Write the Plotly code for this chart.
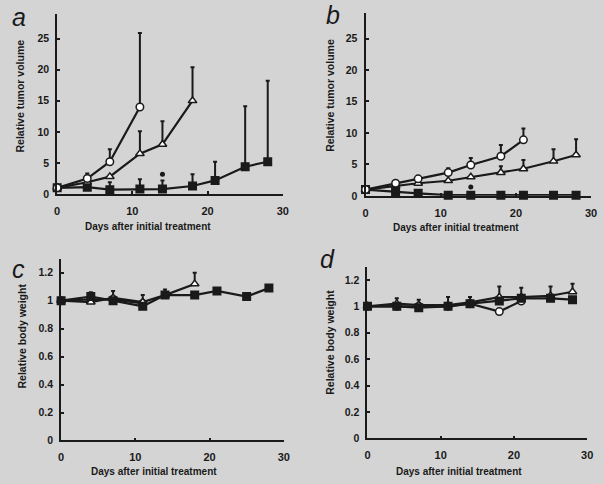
import plotly.graph_objects as go

# ---------------- data ----------------
days = [0, 4, 7, 11, 14, 18, 21, 25, 28]

# Panel a: relative tumor volume
a_circle = [1.0, 2.5, 5.2, 14.0]
a_circle_err = [0, 0.8, 2.0, 11.9]
a_tri = [1.0, 1.9, 2.8, 6.5, 8.0, 15.0]
a_tri_err = [0, 0, 0, 3.6, 3.7, 5.4]
a_sq = [1.0, 1.1, 0.7, 0.8, 0.8, 1.3, 2.2, 4.4, 5.2]
a_sq_err = [0, 0, 1.2, 1.6, 1.4, 1.9, 3.0, 9.7, 13.0]
a_star = (14, 3.2)

# Panel b: relative tumor volume
b_circle = [1.0, 2.0, 2.7, 3.7, 4.9, 6.3, 8.9]
b_circle_err = [0, 0, 0, 0.7, 1.1, 1.8, 1.8]
b_tri = [1.0, 1.6, 2.0, 2.4, 3.0, 3.7, 4.3, 5.5, 6.5]
b_tri_err = [0, 0, 0, 0, 0, 1.0, 1.4, 1.9, 2.5]
b_sq = [1.0, 0.6, 0.4, 0.1, 0.1, 0.1, 0.1, 0.1, 0.1]
b_star = (14, 1.4)

# Panel c: relative body weight
c_sq = [1.0, 1.03, 1.0, 0.96, 1.04, 1.04, 1.07, 1.03, 1.09]
c_sq_err = [0, 0.03, 0, 0, 0.04, 0, 0.02, 0, 0.01]
c_tri = [1.0, 0.99, 1.02, 0.99, 1.04, 1.12]
c_tri_err = [0, 0, 0.05, 0.05, 0, 0.08]
c_circle = [1.0, 1.01, 1.01, 0.98]

# Panel d: relative body weight
d_sq = [1.0, 1.0, 0.99, 1.0, 1.02, 1.04, 1.06, 1.06, 1.05]
d_tri = [1.0, 1.02, 1.01, 1.01, 1.03, 1.07, 1.07, 1.08, 1.11]
d_tri_err = [0, 0.04, 0.04, 0.06, 0.04, 0.08, 0.07, 0.07, 0.06]
d_circle = [1.0, 1.0, 1.0, 1.0, 1.02, 0.96, 1.04]

x_ticks = [0, 10, 20, 30]
tumor_ticks = [0, 5, 10, 15, 20, 25]
weight_ticks = [0, 0.2, 0.4, 0.6, 0.8, 1, 1.2]

# ---------------- layout helpers ----------------
W, H = 604, 484
BG = "#d4d4d4"
INK = "#1a1a1a"
FONT = "Liberation Sans, Arial, sans-serif"


def px(x):
    return x / W


def py(y):
    return 1 - y / H


fig = go.Figure()

STYLES = {
    "circle": dict(symbol="circle", color="white", size=7.5),
    "tri": dict(symbol="triangle-up", color="white", size=7.5),
    "sq": dict(symbol="square", color=INK, size=7.5),
}


def add_series(n, y, err, kind):
    xs = days[:len(y)]
    st = STYLES[kind]
    tr = dict(
        x=xs, y=y, mode="lines+markers",
        line=dict(color=INK, width=2.2),
        marker=dict(symbol=st["symbol"], size=st["size"], color=st["color"],
                    line=dict(color=INK, width=1.5)),
        xaxis=f"x{n}" if n > 1 else "x",
        yaxis=f"y{n}" if n > 1 else "y",
        cliponaxis=False, showlegend=False, hoverinfo="x+y",
    )
    if err is not None:
        tr["error_y"] = dict(type="data", array=err, arrayminus=[0] * len(err),
                             symmetric=False, color=INK, thickness=2, width=2)
    fig.add_trace(go.Scatter(**tr))


def add_star(n, pt):
    fig.add_trace(go.Scatter(
        x=[pt[0]], y=[pt[1]], mode="markers",
        marker=dict(symbol="circle", size=5, color=INK),
        xaxis=f"x{n}" if n > 1 else "x",
        yaxis=f"y{n}" if n > 1 else "y",
        cliponaxis=False, showlegend=False, hoverinfo="skip"))


# panel a
add_series(1, a_sq, a_sq_err, "sq")
add_series(1, a_tri, a_tri_err, "tri")
add_series(1, a_circle, a_circle_err, "circle")
add_star(1, a_star)
# panel b
add_series(2, b_sq, None, "sq")
add_series(2, b_tri, b_tri_err, "tri")
add_series(2, b_circle, b_circle_err, "circle")
add_star(2, b_star)
# panel c
add_series(3, c_circle, None, "circle")
add_series(3, c_tri, c_tri_err, "tri")
add_series(3, c_sq, c_sq_err, "sq")
# panel d
add_series(4, d_circle, None, "circle")
add_series(4, d_tri, d_tri_err, "tri")
add_series(4, d_sq, None, "sq")


def xaxis(x0, x1, anchor):
    return dict(domain=[px(x0), px(x1)], range=[0, 30], anchor=anchor,
                tickvals=x_ticks, ticks="inside", ticklen=3, tickwidth=1.5,
                tickcolor=INK, showline=True, linecolor=INK, linewidth=1.5,
                showgrid=False, zeroline=False, ticklabelstandoff=6,
                tickfont=dict(family=FONT, size=11, color=INK, weight="bold"))


def yaxis(y0px, y1px, rng, ticks, anchor):
    return dict(domain=[py(y0px), py(y1px)], range=rng, anchor=anchor,
                tickvals=ticks, ticks="inside", ticklen=3, tickwidth=1.5,
                tickcolor=INK, showline=True, linecolor=INK, linewidth=2,
                showgrid=False, zeroline=False, ticklabelstandoff=4,
                tickfont=dict(family=FONT, size=10.5, color=INK, weight="bold"))


# panel a: 0 at 196.5, 6.3 px/unit; panel b: 0 at 198.3, 6.37 px/unit
ya0, yb0 = 196.5, 198.3
layout = dict(
    width=W, height=H,
    margin=dict(l=0, r=0, t=0, b=0),
    paper_bgcolor=BG, plot_bgcolor=BG,
    xaxis=xaxis(55, 284, "y"),
    yaxis=yaxis(ya0, ya0 - 29 * 6.3, [0, 29], tumor_ticks, "x"),
    xaxis2=xaxis(368, 597, "y2"),
    yaxis2=yaxis(yb0, yb0 - 29 * 6.37, [0, 29], tumor_ticks, "x2"),
    xaxis3=xaxis(59, 285, "y3"),
    yaxis3=yaxis(446, 262, [0, 1.3], weight_ticks, "x3"),
    xaxis4=xaxis(370, 593, "y4"),
    yaxis4=yaxis(444, 270, [0, 1.3], weight_ticks, "x4"),
)
fig.update_layout(**layout)

ann = []
title_font = dict(family=FONT, size=10, color=INK, weight="bold")
ytitle_font = dict(family=FONT, size=10.5, color=INK, weight="bold")
for (x, y, t) in [(147, 229, "Days after initial treatment"),
                  (460, 230, "Days after initial treatment"),
                  (153, 477, "Days after initial treatment"),
                  (463, 477, "Days after initial treatment")]:
    ann.append(dict(x=px(x), y=py(y), xref="paper", yref="paper", text=t,
                    showarrow=False, font=title_font,
                    xanchor="center", yanchor="middle"))
for (x, y, t) in [(17, 97, "Relative tumor volume"),
                  (332, 97, "Relative tumor volume"),
                  (19, 340, "Relative body weight"),
                  (332, 347, "Relative body weight")]:
    ann.append(dict(x=px(x), y=py(y), xref="paper", yref="paper", text=t,
                    showarrow=False, font=ytitle_font, textangle=-90,
                    xanchor="center", yanchor="middle"))
letter_font = dict(family=FONT, size=25, color=INK, style="italic")
for (x, y, t) in [(16, 17, "a"), (335, 15, "b"), (16, 272, "c"), (329, 262, "d")]:
    ann.append(dict(x=px(x), y=py(y), xref="paper", yref="paper", text=t,
                    showarrow=False, font=letter_font,
                    xanchor="center", yanchor="middle"))
fig.update_layout(annotations=ann)

fig.write_html("out.html", config={"displayModeBar": False},
               post_script="document.body.style.margin='0';document.body.style.overflow='hidden';")
